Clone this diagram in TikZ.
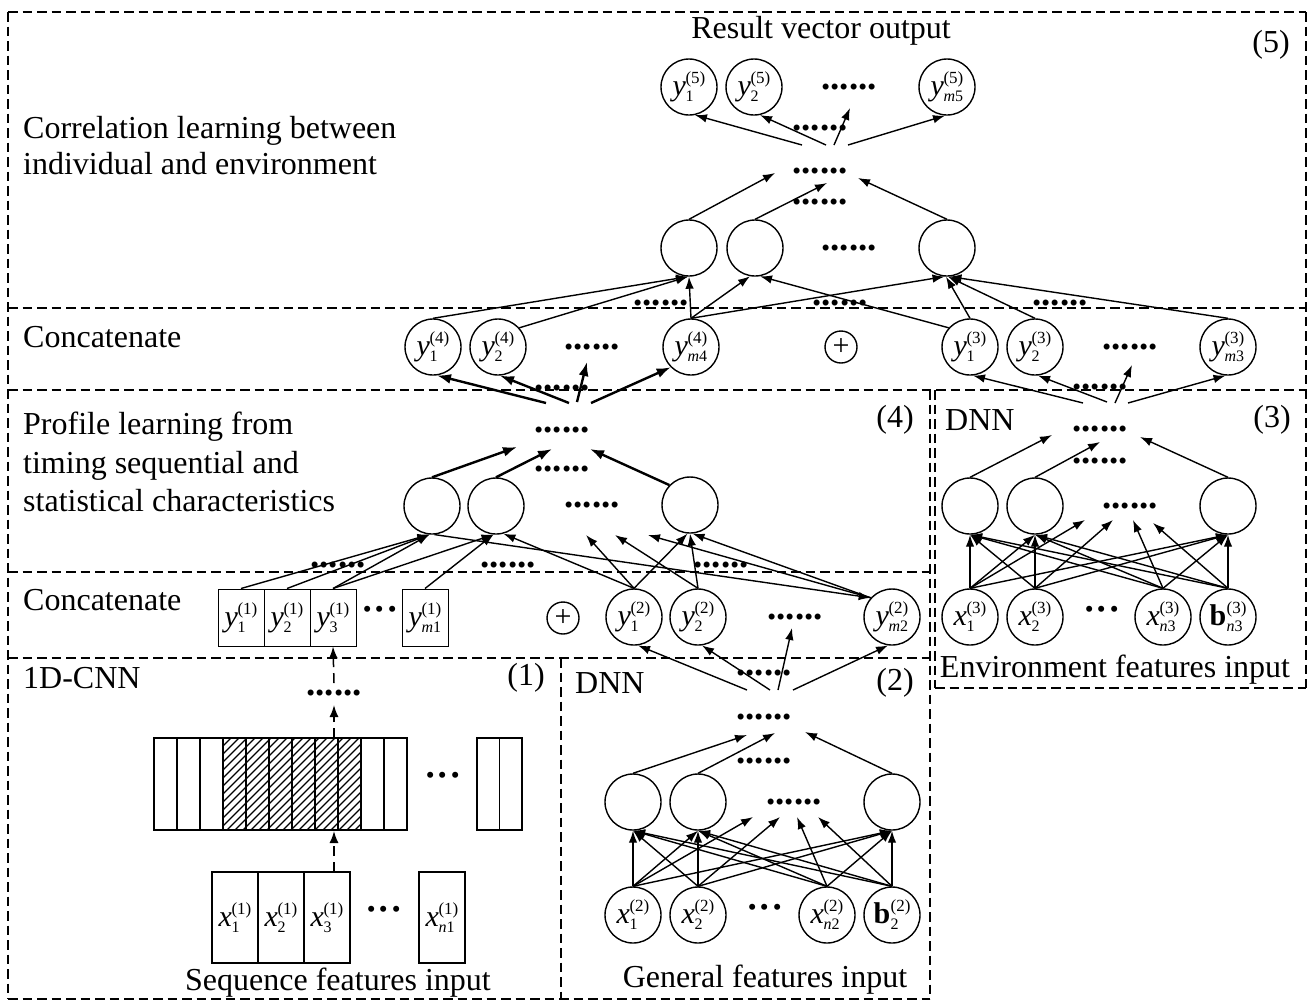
\documentclass[tikz,border=0pt]{standalone}
\usepackage{fontspec}
\setmainfont{Liberation Serif}
\usetikzlibrary{arrows.meta}

% neuron labels: letter with subscript and bracketed layer superscript
\newsavebox\supbox
\newsavebox\subbox
\newcommand{\scripts}[2]{%
  \sbox\supbox{\fontsize{17}{17}\selectfont(#2)}%
  \sbox\subbox{\fontsize{16}{16}\selectfont #1}%
  \rlap{\raisebox{12pt}{\usebox\supbox}}\raisebox{-6pt}{\usebox\subbox}%
  \ifdim\wd\supbox>\wd\subbox\kern\dimexpr\wd\supbox-\wd\subbox\relax\fi}
\newcommand{\nl}[3]{\textit{#1}\kern-0.5pt\scripts{#2}{#3}}
\newcommand{\nb}[2]{\textbf{b}\kern0.5pt\scripts{#1}{#2}}

\tikzset{
  lbl/.style={font=\fontsize{32}{37}\selectfont, inner sep=0pt},
  neuron/.style={circle, draw, line width=1.4pt, minimum size=56pt, inner sep=0pt, font=\fontsize{30}{30}\selectfont},
  plusnode/.style={circle, draw, line width=1.4pt, minimum size=32pt, inner sep=0pt, font=\fontsize{30}{30}\selectfont},
  cell/.style={draw, line width=1pt, minimum width=46pt, minimum height=57pt, inner sep=0pt, font=\fontsize{30}{30}\selectfont},
  xcell/.style={draw, line width=1.4pt, minimum width=46pt, minimum height=91pt, inner sep=0pt, font=\fontsize{30}{30}\selectfont},
  dotrow/.style={font=\fontsize{37}{37}\selectfont\bfseries, inner sep=0pt},
  arr/.style={line width=1.4pt, -{Latex[length=12pt,width=8.5pt]}},
  barr/.style={line width=2.4pt, -{Latex[length=14pt,width=10pt]}},
  darr/.style={line width=1.5pt, dash pattern=on 10pt off 6pt, -{Latex[length=12pt,width=9pt]}},
  dbox/.style={line width=2.3pt, dash pattern=on 9.5pt off 5pt},
  hatch/.style={line width=1.2pt},
  thinbox/.style={line width=1.1pt},
}

\begin{document}
\begin{tikzpicture}[x=1pt,y=-1pt]
\useasboundingbox (0,0) rectangle (1313,1005);

% ---------- dashed frames ----------
\draw[dbox] (8,12) -- (1306,12);
\draw[dbox] (8,12) -- (8,999);
\draw[dbox] (1306,12) -- (1306,688);
\draw[dbox] (8,308) -- (1306,308);
\draw[dbox] (8,390) -- (1306,390);
\draw[dbox] (930,390) -- (930,999);
\draw[dbox] (935,390) -- (935,688);
\draw[dbox] (935,688) -- (1306,688);
\draw[dbox] (8,572) -- (930,572);
\draw[dbox] (8,658) -- (930,658);
\draw[dbox] (561,658) -- (561,999);
\draw[dbox] (8,999) -- (930,999);

% ---------- (5) correlation learning ----------
\node[lbl] (t5) at (821,31) {Result vector output};
\node[lbl] (n5) at (1271,45) {(5)};
\node[lbl, anchor=west, align=left, font=\fontsize{32}{36}\selectfont] (tcorr) at (23,146) {Correlation learning between\\individual and environment};

\node[neuron] (o1) at (689,87) {\nl{y}{1}{5}};
\node[neuron] (o2) at (754,87) {\nl{y}{2}{5}};
\node[dotrow] (od) at (849,87) {......};
\node[neuron] (o3) at (947,87) {\nl{y}{\textit{m}5}{5}};

\node[dotrow] (d5a) at (820,128) {......};
\node[dotrow] (hub5) at (820,171) {......};
\node[dotrow] (d5b) at (820,202) {......};

\node[neuron] (h51) at (689,248) {};
\node[neuron] (h52) at (755,248) {};
\node[dotrow] (h5d) at (849,248) {......};
\node[neuron] (h53) at (947,248) {};

\coordinate (p51) at (802,145);
\coordinate (p52) at (826,145);
\coordinate (p53) at (834,145);
\coordinate (p54) at (848,145);
\coordinate (u5) at (850,108);
\draw[arr] (p51) -- (o1.-78);
\draw[arr] (p52) -- (o2.-78);
\draw[arr] (p53) -- (u5);
\draw[arr] (p54) -- (o3.-94);

\coordinate (r51) at (775,173);
\coordinate (r52) at (827,183);
\coordinate (r53) at (858,178);
\draw[arr] (h51.north) -- (r51);
\draw[arr] (h52.north) -- (r52);
\draw[arr] (h53.north) -- (r53);

% ---------- upper concatenation ----------
\node[lbl, anchor=west] (tcat1) at (23,337) {Concatenate};
\node[neuron] (c41) at (433,347) {\nl{y}{1}{4}};
\node[neuron] (c42) at (498,347) {\nl{y}{2}{4}};
\node[dotrow] (c4d) at (592,347) {......};
\node[neuron] (c4m) at (691,347) {\nl{y}{\textit{m}4}{4}};
\node[plusnode] (oplus1) at (841,347) {+};
\node[neuron] (c31) at (970,347) {\nl{y}{1}{3}};
\node[neuron] (c32) at (1035,347) {\nl{y}{2}{3}};
\node[dotrow] (c3d) at (1130,347) {......};
\node[neuron] (c3m) at (1228,347) {\nl{y}{\textit{m}3}{3}};

\draw[arr] (c41.north) -- (h51.-92);
\draw[arr] (c42.42) -- (h51.-92);
\draw[arr] (c4m.north) -- (h51.-90);
\draw[arr] (c4m.north) -- (h52.-100);
\draw[arr] (c4m.north) -- (h53.-95);
\draw[arr] (c31.138) -- (h52.-80);
\draw[arr] (c31.north) -- (h53.-92);
\draw[arr] (c32.north) -- (h53.-88);
\draw[arr] (c3m.north) -- (h53.-85);
\node[dotrow] (d5c) at (661,303) {......};
\node[dotrow] (d5d) at (840,303) {......};
\node[dotrow] (d5e) at (1060,303) {......};

% ---------- (4) profile learning ----------
\node[lbl, anchor=west, align=left, font=\fontsize{32}{38.5}\selectfont] (tprof) at (23,462) {Profile learning from\\timing sequential and\\statistical characteristics};
\node[lbl] (n4) at (895,420) {(4)};
\node[dotrow] (d4a) at (562,388) {......};
\node[dotrow] (hub4) at (562,430) {......};
\node[dotrow] (d4b) at (562,469) {......};
\node[neuron] (h41) at (432,506) {};
\node[neuron] (h42) at (496,506) {};
\node[dotrow] (h4d) at (592,505) {......};
\node[neuron] (h43) at (690,505) {};

\coordinate (q41) at (546,403);
\coordinate (q42) at (569,403);
\coordinate (q43) at (577,402);
\coordinate (q44) at (591,403);
\coordinate (u4) at (587,362);
\draw[barr] (q41) -- (c41.-82);
\draw[barr] (q42) -- (c42.-86);
\draw[barr] (q43) -- (u4);
\draw[barr] (q44) -- (c4m.-135);

\coordinate (r41) at (517,447);
\coordinate (r42) at (552,449);
\coordinate (r43) at (590,449);
\draw[barr] (h41.north) -- (r41);
\draw[barr] (h42.north) -- (r42);
\draw[barr] (h43.136) -- (r43);

% ---------- lower concatenation ----------
\node[lbl, anchor=west] (tcat2) at (23,600) {Concatenate};
\node[cell] (y11) at (241,617.5) {\nl{y}{1}{1}};
\node[cell] (y12) at (287,617.5) {\nl{y}{2}{1}};
\node[cell] (y13) at (333,617.5) {\nl{y}{3}{1}};
\node[dotrow] (y1d) at (380,614) {···};
\node[cell] (y1m) at (425,617.5) {\nl{y}{\textit{m}1}{1}};
\node[plusnode] (oplus2) at (563,618) {+};
\node[neuron] (c21) at (634,617) {\nl{y}{1}{2}};
\node[neuron] (c22) at (698,617) {\nl{y}{2}{2}};
\node[dotrow] (c2d) at (795,617) {......};
\node[neuron] (c2m) at (892,617) {\nl{y}{\textit{m}2}{2}};

\coordinate (g41) at (586,535);
\coordinate (g42) at (615,535);
\coordinate (g43) at (648,535);
\draw[arr] (y11.north) -- (h41.-95);
\draw[arr] (y12.north) -- (h41.-95);
\draw[arr] (y13.north) -- (h41.-95);
\draw[arr] (y13.north) -- (h42.-95);
\draw[arr] (y1m.north) -- (h42.-95);
\draw[arr] (c21.north) -- (g41);
\draw[arr] (c21.north) -- (h43.-95);
\draw[arr] (c21.north) -- (h42.-75);
\draw[arr] (c22.north) -- (g42);
\draw[arr] (c22.north) -- (h43.-90);
\draw[arr] (c2m.138) -- (g43);
\draw[arr] (c2m.138) -- (h43.-85);
\draw[arr] (h41.-85) -- (c2m.138);
\node[dotrow] (d4c) at (338,565) {......};
\node[dotrow] (d4d) at (508,565) {......};
\node[dotrow] (d4e) at (721,565) {......};

% ---------- (1) 1D-CNN ----------
\node[lbl, anchor=west] (t1) at (23,678) {1D-CNN};
\node[lbl] (n1) at (526,678) {(1)};
\node[dotrow] (cnnd) at (334,693) {......};

% feature map strips with the hatched convolution window
\begin{scope}
  \clip (223,738) rectangle (361,830);
  \foreach \k in {0,...,30} { \draw[hatch] ({131+8*\k},830) -- ++(92,-92); }
\end{scope}
\node[draw, thinbox, minimum width=253pt, minimum height=92pt, inner sep=0pt] (band) at (280.5,784) {};
\foreach \k in {1,...,10} { \draw[thinbox] ({154+23*\k},738) -- ({154+23*\k},830); }
\node[dotrow] (bandd) at (443,780) {···};
\node[draw, thinbox, minimum width=45pt, minimum height=92pt, inner sep=0pt] (bandend) at (499.5,784) {};
\draw[thinbox] (499.5,738) -- (499.5,830);

\node[xcell] (x11) at (235,917.5) {\nl{x}{1}{1}};
\node[xcell] (x12) at (281,917.5) {\nl{x}{2}{1}};
\node[xcell] (x13) at (327,917.5) {\nl{x}{3}{1}};
\node[dotrow] (x1d) at (384,914) {···};
\node[xcell] (x1n) at (442,917.5) {\nl{x}{\textit{n}1}{1}};
\node[lbl] (tseq) at (338,983) {Sequence features input};

\coordinate (a11) at (334,872);
\coordinate (a12) at (334,831);
\coordinate (a13) at (334,738);
\coordinate (a14) at (334,705);
\coordinate (a15) at (334,683);
\draw[darr] (a11) -- (a12);
\draw[darr] (a13) -- (a14);
\draw[darr] (a15) -- (y13.south);

% ---------- (2) DNN ----------
\node[lbl, anchor=west] (t2) at (575,683) {DNN};
\node[lbl] (n2) at (895,683) {(2)};
\node[dotrow] (d2a) at (764,673) {......};
\node[dotrow] (hub2) at (764,717) {......};
\node[dotrow] (d2b) at (764,761) {......};
\coordinate (p21) at (747,690);
\coordinate (p22) at (770,690);
\coordinate (p23) at (778,690);
\coordinate (p24) at (793,690);
\coordinate (u2) at (792,628);
\draw[arr] (p21) -- (c21.-82);
\draw[arr] (p22) -- (c22.-82);
\draw[arr] (p23) -- (u2);
\draw[arr] (p24) -- (c2m.-98);

\node[neuron] (h21) at (633,802) {};
\node[neuron] (h22) at (698,802) {};
\node[dotrow] (h2d) at (794,802) {......};
\node[neuron] (h23) at (892,802) {};
\coordinate (r21) at (747,735);
\coordinate (r22) at (775,733);
\coordinate (r23) at (805,732);
\draw[arr] (h21.north) -- (r21);
\draw[arr] (h22.north) -- (r22);
\draw[arr] (h23.north) -- (r23);

\node[neuron] (x21) at (633,915) {\nl{x}{1}{2}};
\node[neuron] (x22) at (698,915) {\nl{x}{2}{2}};
\node[dotrow] (x2d) at (765,912) {···};
\node[neuron] (x2n) at (827,915) {\nl{x}{\textit{n}2}{2}};
\node[neuron] (b2) at (892,915) {\nb{2}{2}};
\coordinate (g21) at (753,817);
\coordinate (g22) at (780,817);
\coordinate (g23) at (797,817);
\coordinate (g24) at (818,817);
\foreach \i/\g in {x21/g21, x22/g22, x2n/g23, b2/g24} {
  \draw[arr] (\i.north) -- (h21.south);
  \draw[arr] (\i.north) -- (h22.south);
  \draw[arr] (\i.north) -- (\g);
  \draw[arr] (\i.north) -- (h23.south);
}
\node[lbl] (tgen) at (765,980) {General features input};

% ---------- (3) DNN ----------
\node[lbl, anchor=west] (t3) at (945,420) {DNN};
\node[lbl] (n3) at (1272,420) {(3)};
\node[dotrow] (d3a) at (1100,387) {......};
\node[dotrow] (hub3) at (1100,429) {......};
\node[dotrow] (d3b) at (1100,461) {......};
\coordinate (p31) at (1083,403);
\coordinate (p32) at (1107,402);
\coordinate (p33) at (1115,403);
\coordinate (p34) at (1128,403);
\coordinate (u3) at (1132,365);
\draw[arr] (p31) -- (c31.-84);
\draw[arr] (p32) -- (c32.-84);
\draw[arr] (p33) -- (u3);
\draw[arr] (p34) -- (c3m.-95);

\node[neuron] (h31) at (970,506) {};
\node[neuron] (h32) at (1035,506) {};
\node[dotrow] (h3d) at (1130,506) {......};
\node[neuron] (h33) at (1228,506) {};
\coordinate (r31) at (1052,435);
\coordinate (r32) at (1100,442);
\coordinate (r33) at (1140,437);
\draw[arr] (h31.north) -- (r31);
\draw[arr] (h32.north) -- (r32);
\draw[arr] (h33.north) -- (r33);

\node[neuron] (x31) at (970,617) {\nl{x}{1}{3}};
\node[neuron] (x32) at (1035,617) {\nl{x}{2}{3}};
\node[dotrow] (x3d) at (1102,614) {···};
\node[neuron] (x3n) at (1163,617) {\nl{x}{\textit{n}3}{3}};
\node[neuron] (b3) at (1228,617) {\nb{\textit{n}3}{3}};
\coordinate (g31) at (1085,520);
\coordinate (g32) at (1113,520);
\coordinate (g33) at (1133,520);
\coordinate (g34) at (1153,523);
\foreach \i/\g in {x31/g31, x32/g32, x3n/g33, b3/g34} {
  \draw[arr] (\i.north) -- (h31.south);
  \draw[arr] (\i.north) -- (h32.south);
  \draw[arr] (\i.north) -- (\g);
  \draw[arr] (\i.north) -- (h33.south);
}
\node[lbl] (tenv) at (1115,670) {Environment features input};

\end{tikzpicture}
\end{document}
